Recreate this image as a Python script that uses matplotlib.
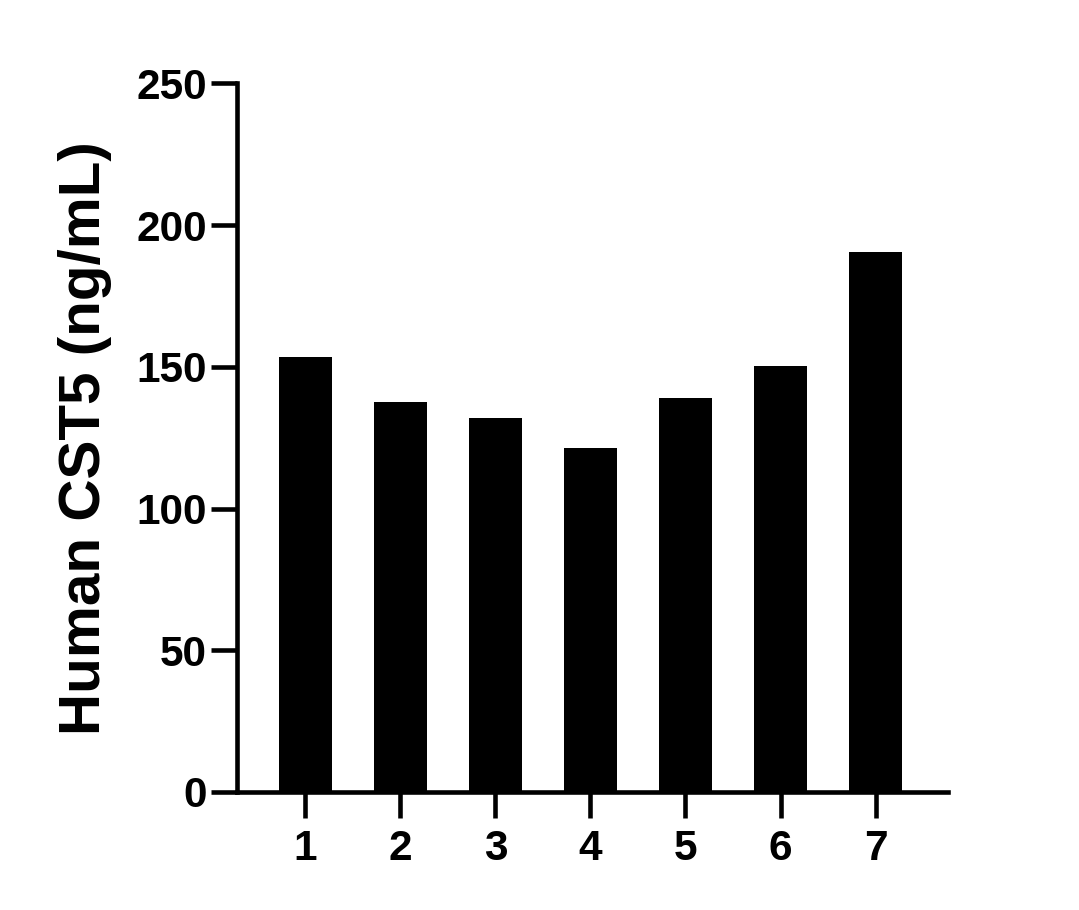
import matplotlib
matplotlib.use("Agg")
import matplotlib.pyplot as plt

# data
samples = ["1", "2", "3", "4", "5", "6", "7"]
cst5_ng_ml = [153.6, 137.7, 131.8, 121.5, 139.1, 150.4, 190.5]
y_ticks = [0, 50, 100, 150, 200, 250]

plt.rcParams['font.family'] = ['Liberation Sans', 'DejaVu Sans']
plt.rcParams['font.weight'] = 'bold'

fig = plt.figure(figsize=(10.79, 9.10), dpi=100)
ax = fig.add_axes([0.2196, 0.1297, 0.8786 - 0.2196, 0.9084 - 0.1297])

x = list(range(1, len(samples) + 1))
ax.bar(x, cst5_ng_ml, width=0.558, color='black', zorder=1)

ax.set_xlim(0.279, 7.763)
ax.set_ylim(0, 250)
ax.set_yticks(y_ticks)
ax.set_xticks(x)
ax.set_xticklabels(samples)

# prism-like axes
for side in ['top', 'right']:
    ax.spines[side].set_visible(False)
for side in ['left', 'bottom']:
    ax.spines[side].set_linewidth(3.3)
    ax.spines[side].set_zorder(3)
ax.tick_params(axis='both', length=18.5, width=3.3, labelsize=30.5)
ax.tick_params(axis='x', pad=8)
ax.tick_params(axis='y', pad=3)
for lab in ax.get_xticklabels() + ax.get_yticklabels():
    lab.set_fontweight('bold')

ax.set_ylabel("Human CST5 (ng/mL)", fontsize=42, fontweight='bold')
ax.yaxis.set_label_coords(-0.176, 0.5)

fig.savefig("out.png", dpi=100)
